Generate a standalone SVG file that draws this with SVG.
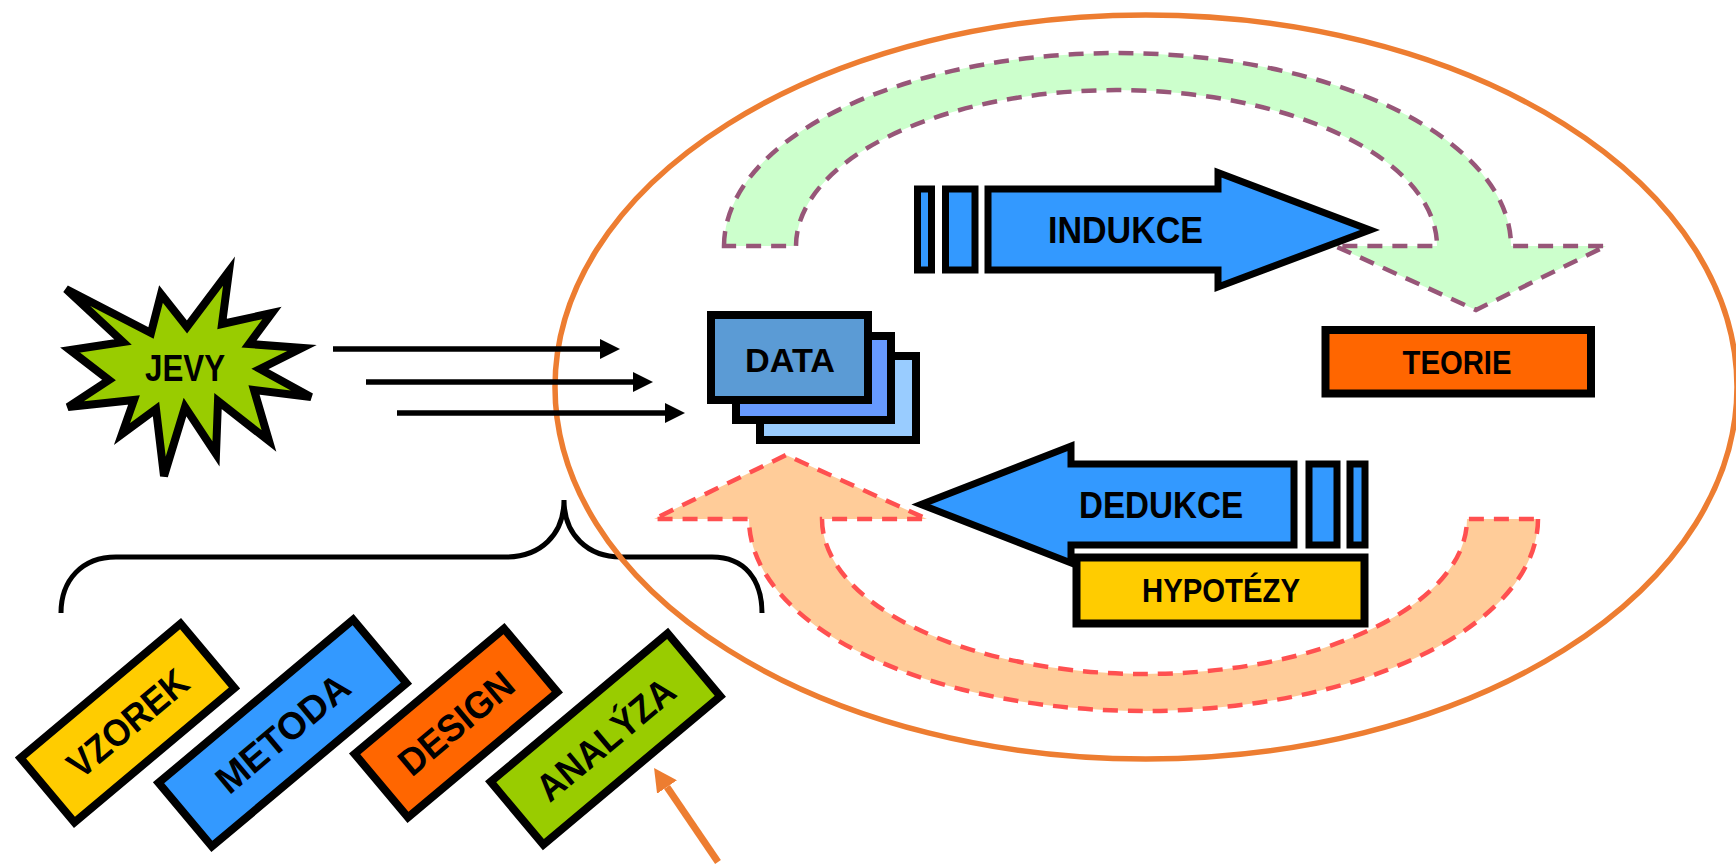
<svg xmlns="http://www.w3.org/2000/svg" width="1736" height="865" viewBox="0 0 1736 865">
  <style>
    text { font-family: "Liberation Sans", Arial, sans-serif; font-weight: bold; fill: #000; text-anchor: middle; }
    .box { stroke: #000; stroke-width: 8; stroke-linejoin: miter; }
    .arr { stroke: #000; stroke-width: 7; stroke-linejoin: miter; stroke-miterlimit: 10; fill: #3399FF; }
    .green { fill: #CCFFCC; stroke: #975678; stroke-width: 4.5; stroke-dasharray: 15 10; }
    .peach { fill: #FFCC99; stroke: #FF5050; stroke-width: 4.5; stroke-dasharray: 15 10; }
  </style>
  <defs>
    <marker id="blackHead" viewBox="0 0 20 20" refX="0" refY="10" markerWidth="20" markerHeight="20" markerUnits="userSpaceOnUse" orient="auto">
      <path d="M0,0 L20,10 L0,20 Z" fill="#000"/>
    </marker>
    <marker id="orangeHead" viewBox="0 0 23 24" refX="0" refY="12" markerWidth="23" markerHeight="24" markerUnits="userSpaceOnUse" orient="auto">
      <path d="M0,0 L23,12 L0,24 Z" fill="#ED7D31"/>
    </marker>
  </defs>

  <!-- brace -->
  <g id="brace">
    <path d="M61 613 C61 580 82 557 116 557 L506 557 C540 557 564 535 564 500 C564 535 588 557 621 557 L712 557 C745 557 762 580 762 613" fill="none" stroke="#000" stroke-width="5"/>
  </g>

  <!-- ellipse -->
  <g id="ellipse">
    <ellipse cx="1146" cy="387" rx="591" ry="372" fill="none" stroke="#ED7D31" stroke-width="5.5"/>
  </g>

  <!-- cycle arrows -->
  <g id="induction-cycle">
    <path class="green" d="M724 246 A393.5 193 0 0 1 1511 246 L1606 246 L1476 310 L1335 246 L1437 246 A320.5 156 0 0 0 796 246 Z"/>
  </g>
  <g id="deduction-cycle">
    <path class="peach" d="M1538 519 A394.5 192 0 0 1 749 519 L654 519 L786 455 L927 519 L822 519 A322.5 155 0 0 0 1467 519 Z"/>
  </g>

  <!-- connectors -->
  <g id="connectors">
    <line x1="333" y1="349" x2="600" y2="349" stroke="#000" stroke-width="5.5" marker-end="url(#blackHead)"/>
    <line x1="366" y1="382" x2="633" y2="382" stroke="#000" stroke-width="5.5" marker-end="url(#blackHead)"/>
    <line x1="397" y1="413" x2="665" y2="413" stroke="#000" stroke-width="5.5" marker-end="url(#blackHead)"/>
    <line x1="718" y1="862" x2="667" y2="787" stroke="#ED7D31" stroke-width="7" marker-end="url(#orangeHead)"/>
  </g>

  <!-- JEVY -->
  <g id="jevy">
    <polygon points="66,289 151,333 161,294 187,327 229,271 222,324 272,313 249,344 302,348 260,369 311,397 254,390 269,441 218,401 216,454 185,407 164,476 156,409 122,434 134,400 68,407 109,380 70,350 123,342" fill="#99CC00" stroke="#000" stroke-width="8" stroke-linejoin="miter"/>
    <text x="185" y="381" font-size="36" textLength="80" lengthAdjust="spacingAndGlyphs">JEVY</text>
  </g>

  <!-- DATA -->
  <g id="data">
    <rect class="box" x="760" y="356" width="156" height="84" fill="#99CCFF"/>
    <rect class="box" x="736" y="336" width="155" height="84" fill="#6699FF"/>
    <rect class="box" x="711" y="315" width="157" height="85" fill="#5B9BD5"/>
    <text x="790" y="372" font-size="34" textLength="90" lengthAdjust="spacingAndGlyphs">DATA</text>
  </g>

  <!-- INDUKCE -->
  <g id="indukce">
    <rect class="arr" x="917.5" y="189" width="14" height="81"/>
    <rect class="arr" x="945.5" y="189" width="29.5" height="81"/>
    <polygon class="arr" points="988,189 1218,189 1218,172.5 1370,230 1218,287 1218,270 988,270"/>
    <text x="1125.5" y="243" font-size="36" textLength="155" lengthAdjust="spacingAndGlyphs">INDUKCE</text>
  </g>

  <!-- TEORIE -->
  <g id="teorie">
    <rect class="box" x="1325.5" y="330" width="265.5" height="63.5" fill="#FF6600"/>
    <text x="1457" y="374" font-size="33" textLength="109" lengthAdjust="spacingAndGlyphs">TEORIE</text>
  </g>

  <!-- DEDUKCE -->
  <g id="dedukce">
    <rect class="arr" x="1309" y="464" width="28" height="81"/>
    <rect class="arr" x="1350" y="464" width="15" height="81"/>
    <polygon class="arr" points="921,504.5 1071,446 1071,464 1294,464 1294,545 1071,545 1071,563"/>
    <text x="1161" y="518" font-size="36" textLength="164" lengthAdjust="spacingAndGlyphs">DEDUKCE</text>
  </g>

  <!-- HYPOTÉZY -->
  <g id="hypotezy">
    <rect class="box" x="1076.5" y="557.5" width="288" height="66" fill="#FFCC00"/>
    <text x="1221" y="602" font-size="33" textLength="158" lengthAdjust="spacingAndGlyphs">HYPOTÉZY</text>
  </g>

  <!-- tilted boxes -->
  <g id="vzorek" transform="translate(127.5,723) rotate(-40)">
    <rect class="box" x="-104.5" y="-42" width="209" height="84" fill="#FFCC00"/>
    <text x="0" y="13.5" font-size="38" textLength="145" lengthAdjust="spacingAndGlyphs">VZOREK</text>
  </g>
  <g id="metoda" transform="translate(282.5,733) rotate(-40)">
    <rect class="box" x="-127" y="-41.5" width="254" height="83" fill="#3399FF"/>
    <text x="0" y="13.5" font-size="38" textLength="162" lengthAdjust="spacingAndGlyphs">METODA</text>
  </g>
  <g id="design" transform="translate(456,723) rotate(-40)">
    <rect class="box" x="-97.5" y="-41.5" width="195" height="83" fill="#FF6600"/>
    <text x="0" y="13.5" font-size="38" textLength="138" lengthAdjust="spacingAndGlyphs">DESIGN</text>
  </g>
  <g id="analyza" transform="translate(605.5,739) rotate(-40)">
    <rect class="box" x="-115.5" y="-41" width="231" height="82" fill="#99CC00"/>
    <text x="0" y="13.5" font-size="38" textLength="168" lengthAdjust="spacingAndGlyphs">ANALÝZA</text>
  </g>
</svg>
